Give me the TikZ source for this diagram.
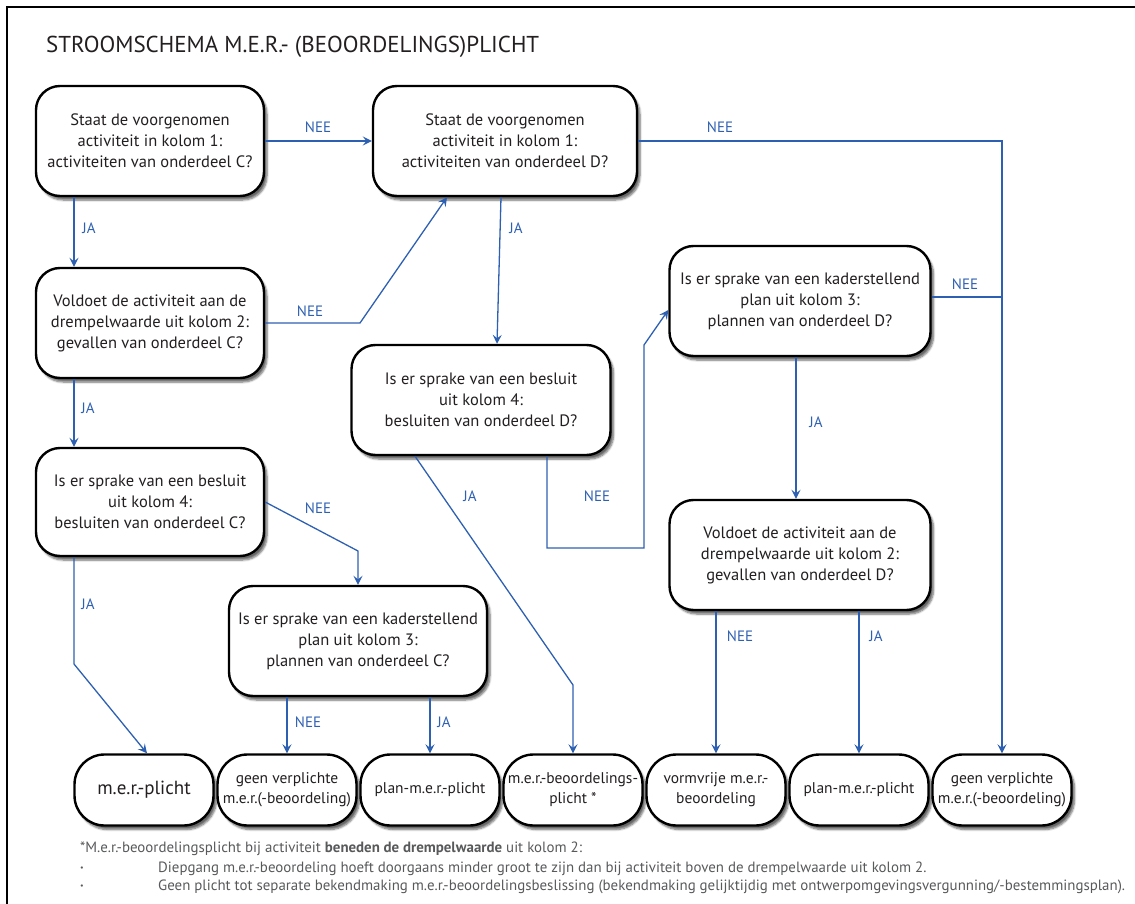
\documentclass[tikz,border=0pt]{standalone}
\usepackage{fontspec}
\setmainfont{PT Sans}
\usetikzlibrary{arrows.meta,shadows.blur}
\definecolor{merblue}{RGB}{46,96,178}
\definecolor{boxtext}{RGB}{35,31,32}
\definecolor{notegray}{RGB}{88,89,91}
\tikzset{
  question/.style={draw=black, line width=2.4pt, rounded corners=24pt, fill=white,
    align=center, text=boxtext, inner sep=0pt, font=\fontsize{16.5}{21}\selectfont,
    blur shadow={shadow xshift=3pt, shadow yshift=-4pt, shadow opacity=60, shadow blur steps=6}},
  outcome/.style={question, rounded corners=30pt, minimum width=139pt, minimum height=71pt,
    font=\fontsize{15.5}{20}\selectfont},
  flow/.style={draw=merblue, line width=1.3pt, -{Stealth[length=9pt,width=9pt,inset=3.5pt]}},
  link/.style={draw=merblue, line width=1.3pt},
  answer/.style={text=merblue, font=\fontsize{15}{17}\selectfont},
  note/.style={text=notegray, anchor=west, inner sep=0pt, font=\fontsize{14.9}{17}\selectfont}
}
\begin{document}
\begin{tikzpicture}[x=1pt, y=-1pt]
  \useasboundingbox (0,0) rectangle (1135,904);
  % frame and title
  \draw[line width=1.6pt] (7,904) -- (7,7) -- (1135,7);
  \node[anchor=west, inner sep=0pt, text=boxtext, font=\fontsize{23}{26}\selectfont] (title) at (46,47) {STROOMSCHEMA M.E.R.- (BEOORDELINGS)PLICHT};

  % questions
  \node[question, minimum width=228pt, minimum height=110pt] (C1) at (150,141) {Staat de voorgenomen\\activiteit in kolom 1:\\activiteiten van onderdeel C?};
  \node[question, minimum width=264pt, minimum height=110pt] (D1) at (505,141) {Staat de voorgenomen\\activiteit in kolom 1:\\activiteiten van onderdeel D?};
  \node[question, minimum width=228pt, minimum height=110pt] (C2) at (150,323) {Voldoet de activiteit aan de\\drempelwaarde uit kolom 2:\\gevallen van onderdeel C?};
  \node[question, minimum width=259pt, minimum height=110pt] (D4) at (481,400) {Is er sprake van een besluit\\uit kolom 4:\\besluiten van onderdeel D?};
  \node[question, minimum width=261pt, minimum height=110pt] (DK) at (800,301) {Is er sprake van een kaderstellend\\plan uit kolom 3:\\plannen van onderdeel D?};
  \node[question, minimum width=228pt, minimum height=108pt] (C4) at (150,502) {Is er sprake van een besluit\\uit kolom 4:\\besluiten van onderdeel C?};
  \node[question, minimum width=258pt, minimum height=110pt] (CK) at (358,641) {Is er sprake van een kaderstellend\\plan uit kolom 3:\\plannen van onderdeel C?};
  \node[question, minimum width=261pt, minimum height=110pt] (DD) at (800,555) {Voldoet de activiteit aan de\\drempelwaarde uit kolom 2:\\gevallen van onderdeel D?};

  % outcomes
  \node[outcome, font=\fontsize{19}{22}\selectfont] (B1) at (144,790) {m.e.r.-plicht};
  \node[outcome] (B2) at (287,790) {geen verplichte\\m.e.r.(-beoordeling)};
  \node[outcome] (B3) at (430,790) {plan-m.e.r.-plicht};
  \node[outcome] (B4) at (573,790) {m.e.r.-beoordelings-\\plicht *};
  \node[outcome] (B5) at (716,790) {vormvrije m.e.r.-\\beoordeling};
  \node[outcome] (B6) at (859,790) {plan-m.e.r.-plicht};
  \node[outcome] (B7) at (1002,790) {geen verplichte\\m.e.r.(-beoordeling)};

  % bends
  \coordinate (c2bend) at (360,323);
  \coordinate (c4bend) at (358,551);
  \coordinate (c4jabend) at (74,664);
  \coordinate (d4jabend) at (573,685);
  \coordinate (d4nee1) at (547,548);
  \coordinate (d4nee2) at (644,548);
  \coordinate (d4nee3) at (644,345);
  \coordinate (dknee) at ([yshift=4pt]DK.east);

  % connectors
  \draw[flow] (C1.east) -- (D1.west);
  \draw[flow] ([xshift=-76pt]C1.south) -- ([xshift=-76pt]C2.north);
  \draw[flow] (C2.east) -- (c2bend) -- ([xshift=-58pt]D1.south);
  \draw[flow] ([xshift=-4pt]D1.south) -- ([xshift=16pt]D4.north);
  \draw[flow] (D1.east) -| (B7.north);
  \draw[link] (dknee) -- (dknee -| B7.north);
  \draw[flow] ([xshift=-76pt]C2.south) -- ([xshift=-76pt]C4.north);
  \draw[flow] (C4.east) -- (c4bend) -- (CK.north);
  \draw[flow] ([xshift=-76pt]C4.south) -- (c4jabend) -- ([xshift=3pt]B1.north);
  \draw[flow] (B2.north |- CK.south) -- (B2.north);
  \draw[flow] (B3.north |- CK.south) -- (B3.north);
  \draw[flow] ([xshift=-66pt]D4.south) -- (d4jabend) -- (B4.north);
  \draw[flow] ([xshift=66pt]D4.south) -- (d4nee1) -- (d4nee2) -- (d4nee3) -- ([yshift=-9pt]DK.west);
  \draw[flow] ([xshift=-4pt]DK.south) -- ([xshift=-4pt]DD.north);
  \draw[flow] (B5.north |- DD.south) -- (B5.north);
  \draw[flow] (B6.north |- DD.south) -- (B6.north);

  % answers
  \node[answer] (a1) at (318,127) {NEE};
  \node[answer] (a2) at (89,228) {JA};
  \node[answer] (a3) at (310,311) {NEE};
  \node[answer] (a4) at (516,228) {JA};
  \node[answer] (a5) at (720,127) {NEE};
  \node[answer] (a6) at (965,284) {NEE};
  \node[answer] (a7) at (88,408) {JA};
  \node[answer] (a8) at (318,508) {NEE};
  \node[answer] (a9) at (88,604) {JA};
  \node[answer] (a10) at (308,722) {NEE};
  \node[answer] (a11) at (444,722) {JA};
  \node[answer] (a12) at (470,496) {JA};
  \node[answer] (a13) at (597,496) {NEE};
  \node[answer] (a14) at (816,422) {JA};
  \node[answer] (a15) at (740,636) {NEE};
  \node[answer] (a16) at (876,636) {JA};

  % footnote
  \node[note] (n1) at (80,849) {*M.e.r.-beoordelingsplicht bij activiteit \textbf{beneden de drempelwaarde} uit kolom 2:};
  \node[note, font=\fontsize{8}{10}\selectfont] (b1) at (80,869) {\textbullet};
  \node[note] (n2) at (158,869) {Diepgang m.e.r.-beoordeling hoeft doorgaans minder groot te zijn dan bij activiteit boven de drempelwaarde uit kolom 2.};
  \node[note, font=\fontsize{8}{10}\selectfont] (b2) at (80,887) {\textbullet};
  \node[note] (n3) at (158,887) {Geen plicht tot separate bekendmaking m.e.r.-beoordelingsbeslissing (bekendmaking gelijktijdig met ontwerpomgevingsvergunning/-bestemmingsplan).};
\end{tikzpicture}
\end{document}
